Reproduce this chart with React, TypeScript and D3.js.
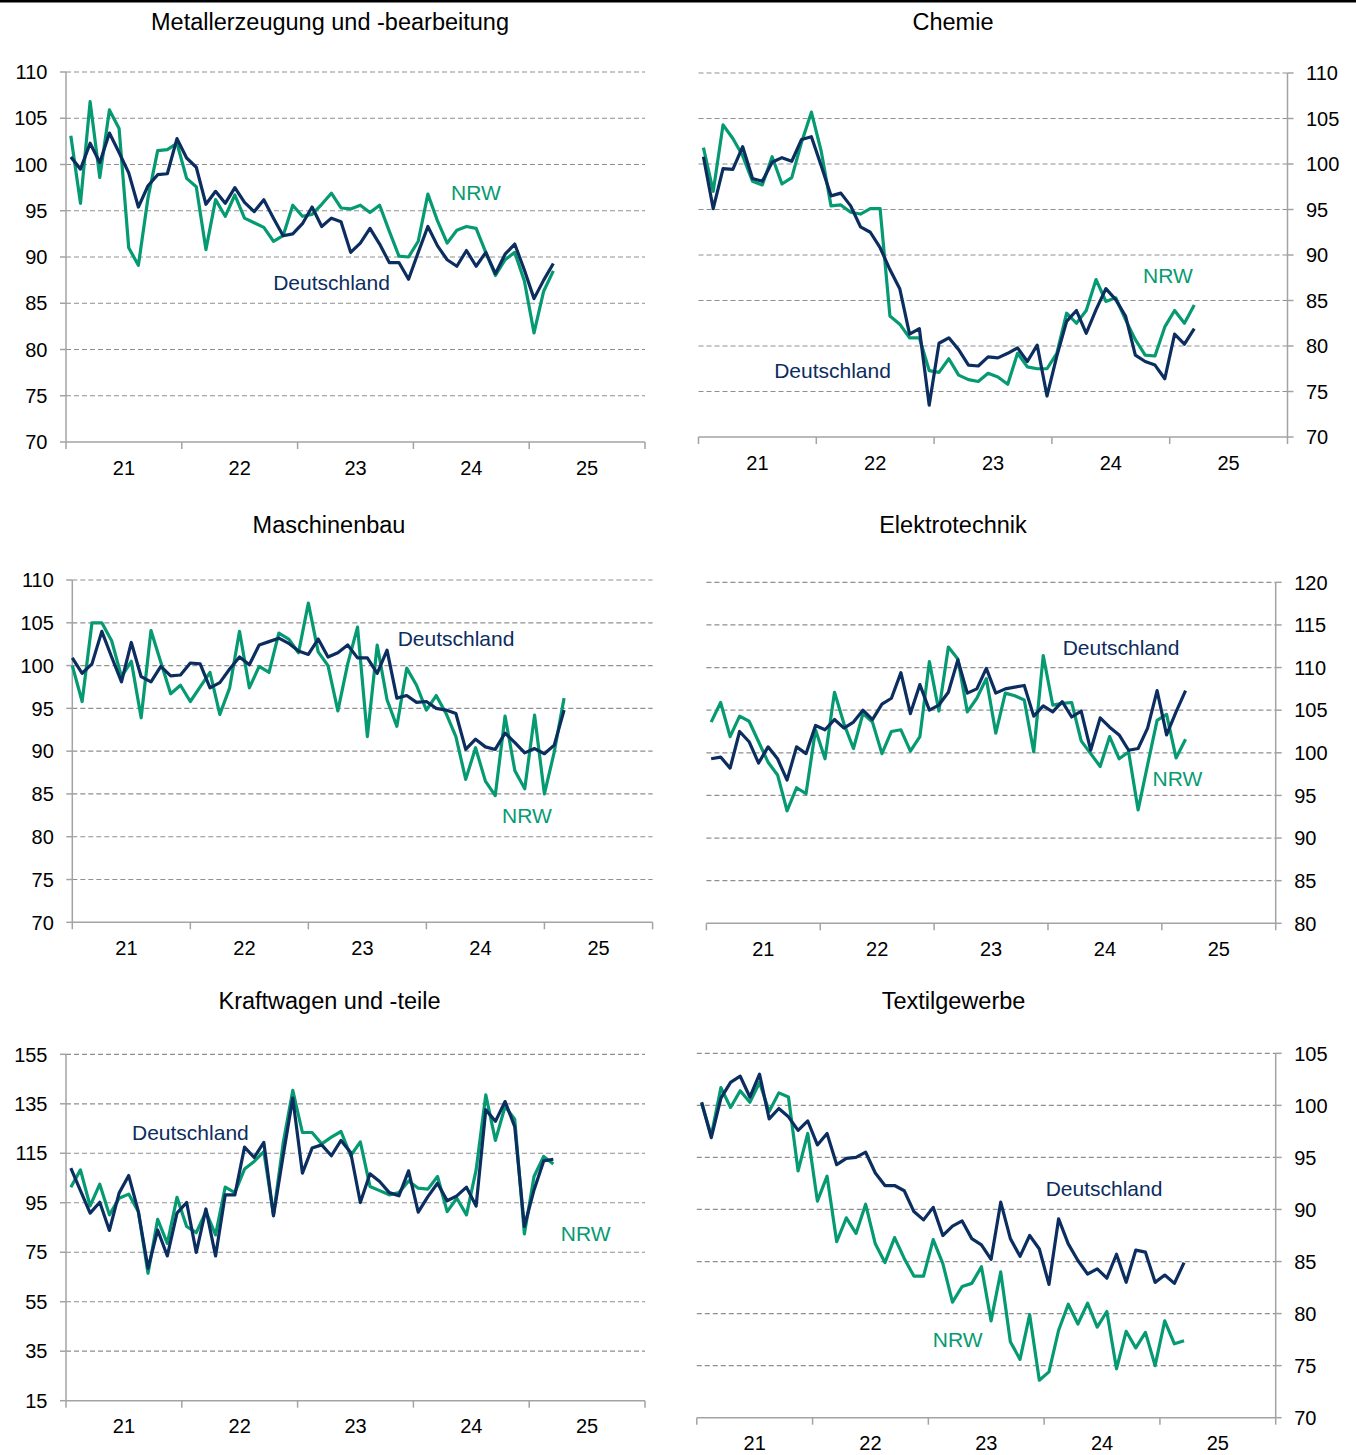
import * as d3 from 'd3';
import React from 'react';

// Produktionsindex, Monatswerte Jan 2021 - Mär 2025 (2021 = 100)
const yearLabels = ['21', '22', '23', '24', '25'];

const metallDE = [100.8, 99.5, 102.3, 100.2, 103.4, 101.3, 99.1, 95.4, 97.7, 98.9, 99.0, 102.8, 100.7, 99.7, 95.7, 97.1, 95.8, 97.5, 95.9, 94.9, 96.2, 94.2, 92.3, 92.5, 93.6, 95.4, 93.3, 94.2, 93.8, 90.5, 91.5, 93.1, 91.4, 89.4, 89.4, 87.6, 90.5, 93.3, 91.2, 89.7, 89.0, 90.7, 89.0, 90.5, 88.2, 90.3, 91.4, 88.6, 85.5, 87.5, 89.3];
const metallNRW = [103.1, 95.8, 106.8, 98.6, 105.9, 103.9, 91.0, 89.1, 96.4, 101.5, 101.6, 102.3, 98.5, 97.6, 90.8, 96.2, 94.4, 96.7, 94.2, 93.7, 93.2, 91.7, 92.3, 95.6, 94.4, 94.6, 95.7, 96.9, 95.3, 95.2, 95.6, 94.8, 95.6, 92.8, 90.1, 90.0, 91.7, 96.8, 93.9, 91.5, 92.9, 93.3, 93.1, 90.5, 88.0, 89.7, 90.5, 87.4, 81.8, 86.3, 88.5];

const chemieDE = [100.8, 95.1, 99.5, 99.4, 101.9, 98.4, 98.1, 100.2, 100.7, 100.3, 102.7, 103.0, 99.8, 96.5, 96.8, 95.4, 93.1, 92.5, 90.8, 88.4, 86.3, 81.3, 81.9, 73.5, 80.3, 80.9, 79.6, 77.9, 77.8, 78.8, 78.7, 79.2, 79.8, 78.3, 80.1, 74.5, 78.9, 82.7, 83.9, 81.4, 84.0, 86.3, 85.1, 83.3, 79.0, 78.3, 77.9, 76.4, 81.3, 80.2, 81.9];
const chemieNRW = [101.8, 97.0, 104.3, 102.8, 100.9, 98.1, 97.7, 100.8, 97.8, 98.5, 102.4, 105.7, 101.4, 95.4, 95.5, 94.7, 94.5, 95.1, 95.1, 83.3, 82.4, 80.9, 80.9, 77.3, 77.1, 78.6, 76.8, 76.3, 76.1, 77.0, 76.6, 75.8, 79.2, 77.7, 77.5, 77.5, 79.2, 83.6, 82.5, 83.9, 87.3, 84.9, 85.3, 82.9, 80.7, 79.0, 78.9, 82.1, 83.9, 82.5, 84.5];

const maschDE = [100.9, 99.1, 100.2, 104.0, 101.0, 98.1, 102.7, 98.7, 98.1, 99.9, 98.8, 98.9, 100.3, 100.2, 97.4, 98.0, 99.6, 101.0, 100.1, 102.4, 102.8, 103.2, 102.6, 101.7, 101.3, 103.1, 101.0, 101.5, 102.4, 100.9, 100.9, 99.1, 101.8, 96.2, 96.5, 95.7, 95.8, 95.0, 94.8, 94.4, 90.2, 91.4, 90.5, 90.2, 92.1, 91.0, 89.8, 90.3, 89.7, 90.7, 94.8];
const maschNRW = [100.0, 95.8, 105.0, 105.0, 102.9, 98.7, 100.5, 93.9, 104.1, 100.4, 96.7, 97.7, 95.8, 97.5, 99.2, 94.3, 97.4, 104.0, 97.4, 99.9, 99.2, 103.8, 103.1, 101.5, 107.3, 101.6, 100.0, 94.7, 100.2, 104.5, 91.7, 102.4, 96.0, 92.9, 99.7, 97.7, 94.8, 96.5, 94.4, 91.7, 86.7, 90.4, 86.5, 84.8, 94.1, 87.7, 85.6, 94.2, 85.0, 89.9, 96.2];

const elektroDE = [99.3, 99.5, 98.2, 102.5, 101.3, 98.8, 100.7, 99.3, 96.8, 100.7, 99.9, 103.2, 102.7, 103.9, 102.9, 103.6, 105.0, 103.9, 105.7, 106.4, 109.4, 104.6, 108.0, 105.0, 105.6, 107.1, 110.9, 107.0, 107.5, 109.9, 107.0, 107.5, 107.7, 107.9, 104.3, 105.5, 104.8, 106.0, 104.2, 104.9, 100.3, 104.1, 103.0, 102.1, 100.3, 100.5, 102.9, 107.3, 102.1, 104.8, 107.3];
const elektroNRW = [103.6, 105.9, 101.9, 104.3, 103.7, 101.3, 98.9, 97.4, 93.2, 95.9, 95.2, 102.7, 99.3, 107.1, 103.4, 100.5, 104.6, 103.6, 99.9, 102.5, 102.7, 100.2, 101.9, 110.7, 104.9, 112.4, 111.0, 104.8, 106.4, 108.7, 102.3, 107.0, 106.7, 106.2, 100.1, 111.4, 105.6, 105.8, 105.9, 101.4, 99.9, 98.4, 101.9, 99.3, 100.1, 93.3, 98.6, 103.8, 104.5, 99.4, 101.6];

const kfzDE = [109.0, 99.9, 90.8, 95.2, 83.8, 98.9, 106.0, 91.4, 68.5, 84.0, 73.5, 90.8, 95.1, 74.9, 92.5, 73.5, 98.2, 98.2, 117.5, 113.3, 119.4, 89.7, 114.0, 137.3, 107.0, 117.1, 118.4, 114.0, 120.2, 115.3, 95.1, 106.7, 103.6, 99.1, 97.8, 107.9, 91.2, 97.5, 102.9, 95.8, 97.8, 101.3, 93.7, 132.6, 127.9, 135.9, 125.8, 85.4, 100.2, 111.9, 112.6];
const kfzNRW = [101.3, 108.3, 93.7, 102.5, 90.1, 96.8, 98.5, 91.4, 66.5, 88.3, 78.6, 97.2, 85.4, 82.9, 91.4, 82.0, 101.3, 99.1, 108.6, 111.7, 115.7, 90.1, 119.0, 140.4, 123.4, 123.4, 118.8, 121.5, 123.8, 114.0, 119.6, 101.6, 99.9, 98.2, 99.1, 103.8, 100.9, 100.5, 105.6, 91.4, 96.8, 90.1, 108.3, 138.6, 120.2, 133.9, 128.8, 82.4, 105.6, 113.7, 110.7];

const textilDE = [100.3, 96.9, 100.7, 102.2, 102.8, 100.8, 103.0, 98.7, 99.7, 98.9, 97.6, 98.5, 96.2, 97.3, 94.3, 94.9, 95.0, 95.5, 93.5, 92.3, 92.3, 91.8, 89.8, 89.0, 90.2, 87.5, 88.4, 88.9, 87.2, 86.6, 85.2, 90.7, 87.2, 85.5, 87.5, 86.2, 82.8, 89.1, 86.7, 85.1, 83.8, 84.3, 83.4, 85.7, 83.0, 86.1, 85.9, 83.0, 83.7, 82.9, 84.9];
const textilNRW = [100.2, 97.1, 101.7, 99.8, 101.4, 100.3, 102.2, 99.4, 101.2, 100.8, 93.7, 97.3, 90.8, 93.2, 86.9, 89.2, 87.7, 90.5, 86.7, 84.9, 87.3, 85.3, 83.6, 83.6, 87.1, 84.8, 81.1, 82.6, 82.9, 84.5, 79.3, 84.0, 77.3, 75.6, 79.9, 73.6, 74.4, 78.4, 80.9, 79.0, 81.0, 78.7, 80.2, 74.7, 78.3, 76.7, 78.2, 75.0, 79.3, 77.1, 77.4];

const NAVY = '#0b2d5f';
const GREEN = '#069a72';
const GRID = '#8f8f8f';
const AXIS = '#a3a3a3';
const FONT = 'Liberation Sans, Arial, sans-serif';

interface PanelProps {
  title: string;
  de: number[];
  nrw: number[];
  yMin: number;
  yMax: number;
  yStep: number;
  left: number;
  right: number;
  top: number;
  bottom: number;
  side: 'left' | 'right';
  onTicks?: boolean;
  titleX: number;
  titleY: number;
  deLabel: [number, number];
  nrwLabel: [number, number];
}

const Panel = (p: PanelProps) => {
  const nCat = 60;
  const x = d3
    .scaleLinear()
    .domain(p.onTicks ? [0, nCat - 1] : [0, nCat])
    .range([p.left, p.right]);
  const pos = (i: number) => (p.onTicks ? x(i) : x(i + 0.5));
  const y = d3.scaleLinear().domain([p.yMin, p.yMax]).range([p.bottom, p.top]);
  const yTicks = d3.range(p.yMin, p.yMax + 0.001, p.yStep);
  const line = d3
    .line<number>()
    .x((_, i) => pos(i))
    .y(d => y(d));

  const tickIdx = p.onTicks ? [0, 12, 24, 36, 48, 59] : [0, 12, 24, 36, 48, 60];
  const axisX = p.side === 'left' ? p.left : p.right;
  const dir = p.side === 'left' ? -1 : 1;

  return (
    <g>
      <text x={p.titleX} y={p.titleY} textAnchor="middle" fontSize={23.5} fill="#000">
        {p.title}
      </text>

      {yTicks.map(t => (
        <g key={t}>
          {t !== p.yMin && (
            <line
              x1={p.left}
              x2={p.right}
              y1={y(t)}
              y2={y(t)}
              stroke={GRID}
              strokeWidth={1.2}
              strokeDasharray="5,3"
            />
          )}
          <line x1={axisX} x2={axisX + dir * 6} y1={y(t)} y2={y(t)} stroke={AXIS} strokeWidth={1.5} />
          <text
            x={axisX + dir * 18.5}
            y={y(t)}
            dy="0.36em"
            textAnchor={p.side === 'left' ? 'end' : 'start'}
            fontSize={20}
            fill="#000"
          >
            {t}
          </text>
        </g>
      ))}

      <line x1={axisX} x2={axisX} y1={p.top} y2={p.bottom} stroke={AXIS} strokeWidth={1.5} />
      <line x1={p.left} x2={p.right} y1={p.bottom} y2={p.bottom} stroke={AXIS} strokeWidth={1.5} />
      {tickIdx.map(t => (
        <line key={t} x1={x(t)} x2={x(t)} y1={p.bottom} y2={p.bottom + 7} stroke={AXIS} strokeWidth={1.5} />
      ))}
      {yearLabels.map((lab, k) => (
        <text key={lab} x={pos(12 * k + 5.5)} y={p.bottom + 32.5} textAnchor="middle" fontSize={20} fill="#000">
          {lab}
        </text>
      ))}

      <path d={line(p.nrw) ?? ''} fill="none" stroke={GREEN} strokeWidth={3.2} strokeLinejoin="round" />
      <path d={line(p.de) ?? ''} fill="none" stroke={NAVY} strokeWidth={3.2} strokeLinejoin="round" />

      <text x={p.deLabel[0]} y={p.deLabel[1]} textAnchor="middle" fontSize={21} fill={NAVY}>
        Deutschland
      </text>
      <text x={p.nrwLabel[0]} y={p.nrwLabel[1]} textAnchor="middle" fontSize={21} fill={GREEN}>
        NRW
      </text>
    </g>
  );
};

const App = () => {
  return (
    <svg
      width={1356}
      height={1455}
      style={{ position: 'absolute', left: 0, top: 0, background: '#fff', fontFamily: FONT }}
    >
      <rect x={0} y={0} width={1356} height={2.5} fill="#000" />
      <Panel
        title="Metallerzeugung und -bearbeitung"
        de={metallDE}
        nrw={metallNRW}
        yMin={70}
        yMax={110}
        yStep={5}
        left={66}
        right={645}
        top={72}
        bottom={442}
        side="left"
        titleX={330}
        titleY={30}
        deLabel={[331.5, 290]}
        nrwLabel={[476, 200]}
      />
      <Panel
        title="Chemie"
        de={chemieDE}
        nrw={chemieNRW}
        yMin={70}
        yMax={110}
        yStep={5}
        left={698.5}
        right={1287.5}
        top={73}
        bottom={437}
        side="right"
        titleX={953}
        titleY={30}
        deLabel={[832.5, 378]}
        nrwLabel={[1168, 283]}
      />
      <Panel
        title="Maschinenbau"
        de={maschDE}
        nrw={maschNRW}
        yMin={70}
        yMax={110}
        yStep={5}
        left={72.3}
        right={652.6}
        top={580}
        bottom={922.3}
        side="left"
        onTicks
        titleX={329}
        titleY={533}
        deLabel={[456, 646]}
        nrwLabel={[527, 823]}
      />
      <Panel
        title="Elektrotechnik"
        de={elektroDE}
        nrw={elektroNRW}
        yMin={80}
        yMax={120}
        yStep={5}
        left={706.4}
        right={1275.7}
        top={582.3}
        bottom={923.3}
        side="right"
        titleX={953}
        titleY={533}
        deLabel={[1121, 655]}
        nrwLabel={[1177.5, 786]}
      />
      <Panel
        title="Kraftwagen und -teile"
        de={kfzDE}
        nrw={kfzNRW}
        yMin={15}
        yMax={155}
        yStep={20}
        left={66}
        right={645}
        top={1054.3}
        bottom={1400.7}
        side="left"
        titleX={329.5}
        titleY={1009}
        deLabel={[190.4, 1140]}
        nrwLabel={[585.7, 1241]}
      />
      <Panel
        title="Textilgewerbe"
        de={textilDE}
        nrw={textilNRW}
        yMin={70}
        yMax={105}
        yStep={5}
        left={696.8}
        right={1275.7}
        top={1053.3}
        bottom={1417.7}
        side="right"
        titleX={953.5}
        titleY={1009}
        deLabel={[1104, 1196]}
        nrwLabel={[957.7, 1347]}
      />
    </svg>
  );
};

export default App;
